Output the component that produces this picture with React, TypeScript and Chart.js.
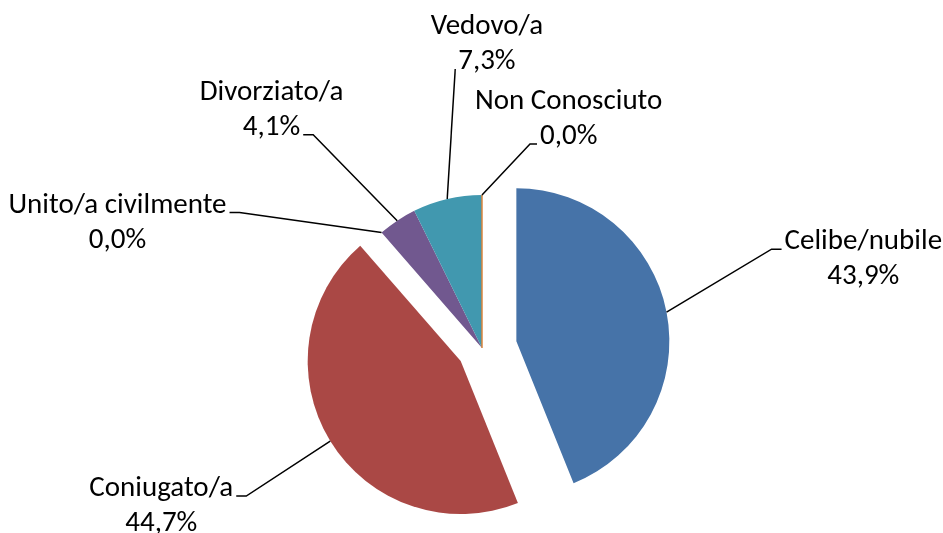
import React, { useEffect, useRef } from 'react';
import { Chart, registerables } from 'chart.js';

Chart.register(...registerables);

// ---- data ----
const categories = [
  'Celibe/nubile',
  'Coniugato/a',
  'Unito/a civilmente',
  'Divorziato/a',
  'Vedovo/a',
  'Non Conosciuto',
];
const shares = [43.9, 44.7, 0.0, 4.1, 7.3, 0.0];

// ---- styling ----
const sliceColors = ['#4673A8', '#AA4845', '#89A54E', '#71588F', '#4198AF', '#DB843D'];
const explodeDistance = [35, 25, 0, 0, 0, 0];
// leader-line elbow offset from each slice's outer-edge midpoint
const labelElbow: [number, number][] = [
  [105, -63],
  [-84, 55],
  [-142, -20],
  [-84, -86],
  [8, -130],
  [48, -51],
];
const labelTick = [10, 10, 10, 10, 0, 7];
const labelAttach = [0, 0, 0, 1, 1, 1];

const FONT_FAMILY = '"Carlito", "Lato", sans-serif';
const FONT_SIZE = 29;
const LINE_H = 35;
const GAP = 3;

const fmt = (v: number) => v.toFixed(1).replace('.', ',') + '%';

const explodePlugin = {
  id: 'explode',
  afterDatasetUpdate(chart: any, args: any) {
    args.meta.data.forEach((arc: any, i: number) => {
      const d = explodeDistance[i] || 0;
      if (!d) return;
      const mid = (arc.startAngle + arc.endAngle) / 2;
      arc.x += Math.cos(mid) * d;
      arc.y += Math.sin(mid) * d;
    });
  },
};

const pieLabels = {
  id: 'pieLabels',
  afterDatasetsDraw(chart: any) {
    const ctx = chart.ctx as CanvasRenderingContext2D;
    const meta = chart.getDatasetMeta(0);
    const arcs = meta.data;
    ctx.save();
    // zero-width slices left uncovered by later slices show as a hairline
    arcs.forEach((arc: any, i: number) => {
      if (shares[i] !== 0) return;
      const coveredLater = shares.slice(i + 1).some((v) => v > 0);
      if (coveredLater) return;
      const { x, y, startAngle, outerRadius } = arc.getProps(['x', 'y', 'startAngle', 'outerRadius'], true);
      ctx.strokeStyle = sliceColors[i];
      ctx.lineWidth = 1.5;
      ctx.beginPath();
      ctx.moveTo(x, y);
      ctx.lineTo(x + Math.cos(startAngle) * outerRadius, y + Math.sin(startAngle) * outerRadius);
      ctx.stroke();
    });

    ctx.font = `${FONT_SIZE}px ${FONT_FAMILY}`;
    ctx.fillStyle = '#000';
    ctx.strokeStyle = '#000';
    ctx.lineWidth = 1.5;
    arcs.forEach((arc: any, i: number) => {
      const { x, y, startAngle, endAngle, outerRadius } = arc.getProps(
        ['x', 'y', 'startAngle', 'endAngle', 'outerRadius'],
        true
      );
      const mid = (startAngle + endAngle) / 2;
      const ex = x + Math.cos(mid) * outerRadius;
      const ey = y + Math.sin(mid) * outerRadius;
      const [dx, dy] = labelElbow[i];
      const bx = ex + dx;
      const by = ey + dy;
      const side = dx >= 0 ? 1 : -1;
      const tx = bx + side * labelTick[i];
      ctx.beginPath();
      ctx.moveTo(ex, ey);
      ctx.lineTo(bx, by);
      ctx.lineTo(tx, by);
      ctx.stroke();

      const lines = [categories[i], fmt(shares[i])];
      const a = labelAttach[i];
      const wa = ctx.measureText(lines[a]).width;
      const near = tx + side * GAP;
      const cx = near + side * (wa / 2);
      const baseA = by;
      ctx.textAlign = 'center';
      ctx.textBaseline = 'alphabetic';
      lines.forEach((t, k) => ctx.fillText(t, cx, baseA + (k - a) * LINE_H));
    });
    ctx.restore();
  },
};

export default function App() {
  const ref = useRef<HTMLCanvasElement | null>(null);
  useEffect(() => {
    if (!ref.current) return;
    const chart = new Chart(ref.current, {
      type: 'pie',
      data: {
        labels: categories,
        datasets: [
          {
            data: shares,
            backgroundColor: sliceColors,
            borderWidth: 0,
            radius: 153,
          } as any,
        ],
      },
      options: {
        responsive: false,
        animation: false,
        devicePixelRatio: 1,
        layout: { padding: { left: 21, right: 0, top: 163, bottom: 0 } },
        plugins: {
          legend: { display: false },
          tooltip: { enabled: false },
        },
      },
      plugins: [explodePlugin, pieLabels],
    });
    return () => chart.destroy();
  }, []);
  return (
    <div style={{ position: 'absolute', left: 0, top: 0, width: 943, height: 533, background: '#fff' }}>
      <canvas ref={ref} width={943} height={533} />
    </div>
  );
}
